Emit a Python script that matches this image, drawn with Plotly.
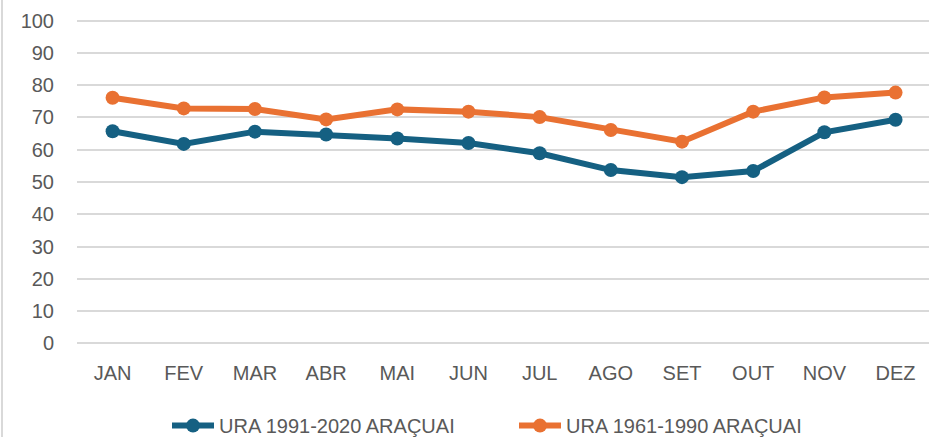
import plotly.graph_objects as go

months = ["JAN", "FEV", "MAR", "ABR", "MAI", "JUN", "JUL", "AGO", "SET", "OUT", "NOV", "DEZ"]
ura_1991_2020 = [65.7, 61.8, 65.6, 64.7, 63.5, 62.1, 58.9, 53.7, 51.5, 53.4, 65.4, 69.3]
ura_1961_1990 = [76.1, 72.8, 72.6, 69.4, 72.5, 71.8, 70.1, 66.1, 62.5, 71.8, 76.2, 77.7]
y_ticks = [0, 10, 20, 30, 40, 50, 60, 70, 80, 90, 100]

name_a = "URA 1991-2020 ARAÇUAI"
name_b = "URA 1961-1990 ARAÇUAI"
blue = "#156082"
orange = "#E97132"
text_color = "#595959"
font_family = "Liberation Sans, Arial, sans-serif"

W, H = 929, 437
ML, MR, MT, MB = 77, 0, 19.4, 92.4
PW, PH = W - ML - MR, H - MT - MB

fig = go.Figure()
fig.add_trace(go.Scatter(
    x=months, y=ura_1991_2020, name=name_a, mode="lines+markers",
    line=dict(color=blue, width=6), marker=dict(color=blue, size=14),
))
fig.add_trace(go.Scatter(
    x=months, y=ura_1961_1990, name=name_b, mode="lines+markers",
    line=dict(color=orange, width=6), marker=dict(color=orange, size=14),
))

fig.update_layout(
    width=W, height=H,
    margin=dict(l=ML, r=MR, t=MT, b=MB, autoexpand=False),
    paper_bgcolor="white", plot_bgcolor="white",
    font=dict(family=font_family, size=20, color=text_color),
    showlegend=True,
    legend=dict(
        orientation="h", x=(167 - ML) / PW, xanchor="left",
        y=(MT + PH - 425) / PH, yanchor="middle",
        font=dict(size=20, color=text_color),
        itemwidth=42, entrywidth=290, entrywidthmode="pixels",
    ),
    xaxis=dict(
        automargin=False,
        type="category", range=[-0.5, 11.47], showgrid=False, zeroline=False,
        showline=False, ticks="", ticklabelstandoff=14,
        tickfont=dict(size=20, color=text_color),
    ),
    yaxis=dict(
        automargin=False,
        range=[-0.5, 100.5], tickvals=y_ticks, showgrid=True,
        gridcolor="#D9D9D9", gridwidth=2, zeroline=False, showline=False,
        ticks="", ticklabelstandoff=22, tickfont=dict(size=20, color=text_color),
    ),
    shapes=[dict(
        type="line", xref="paper", yref="paper",
        x0=(2 - ML) / PW, x1=(2 - ML) / PW, y0=-MB / PH, y1=1 + MT / PH,
        line=dict(color="#D9D9D9", width=2),
    )],
)

fig.write_html(
    "out.html",
    config={"displayModeBar": False},
    post_script="document.body.style.margin='0';document.body.style.overflow='hidden';",
)
